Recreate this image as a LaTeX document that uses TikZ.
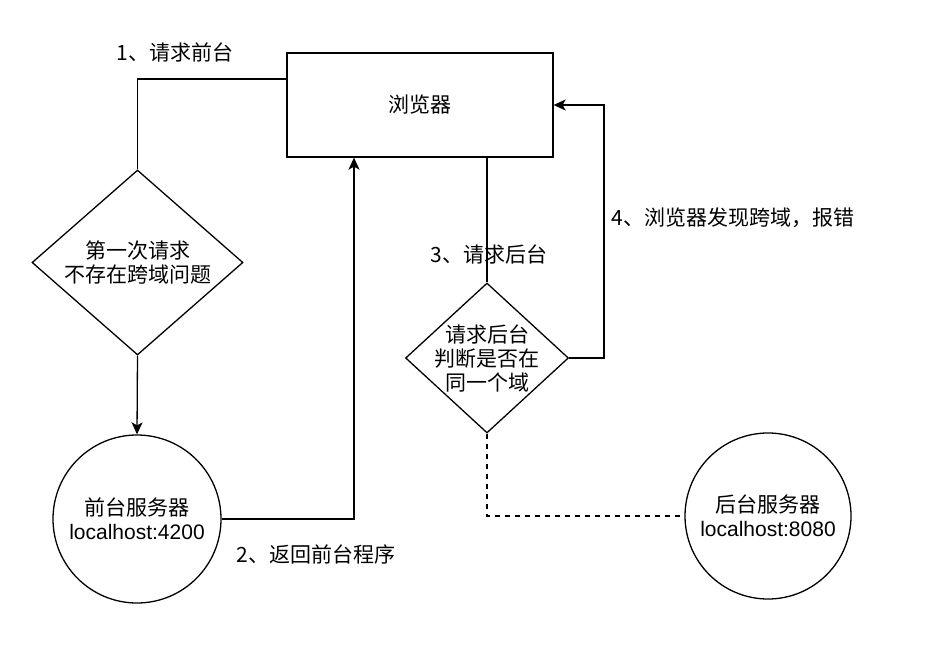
\documentclass[tikz,border=0pt]{standalone}
\usepackage{fontspec}
\setmainfont{Noto Sans CJK SC}
\newfontfamily\latinfont{Liberation Sans}
\usepackage{tikz}
\usetikzlibrary{shapes.geometric, arrows.meta}

\begin{document}
\begin{tikzpicture}[
    x=1pt, y=-1pt,
    txt/.style={font=\fontsize{21}{24}\selectfont, align=center},
    box/.style={rectangle, draw, line width=1.3pt, minimum width=266pt,
                minimum height=104pt, txt},
    check/.style={diamond, draw, line width=1.3pt, inner sep=0pt},
    server/.style={circle, draw, line width=1.3pt, inner sep=0pt, txt},
    flow/.style={line width=1.3pt},
    arrow/.style={-{Stealth[length=12pt, width=11pt, inset=3pt]}, line width=1.3pt},
    link/.style={line width=1.3pt, dash pattern=on 5pt off 5pt}
]
\useasboundingbox (0,0) rectangle (933,671);

\node[box] (browser) at (420,105) {浏览器};

\node[check, minimum width=211pt, minimum height=185pt] (firstq) at (137.5,262.5) {};
\node[txt] (firsttxt) at (firstq) {第一次请求\\不存在跨域问题};

\node[server, minimum size=168pt] (frontsrv) at (137,519)
    {前台服务器\\{\latinfont localhost:4200}};

\node[check, minimum width=163pt, minimum height=150pt] (sameq) at (487,358) {};
\node[txt] (sametxt) at (sameq) {请求后台\\判断是否在\\同一个域};

\node[server, minimum size=166pt] (backsrv) at (768,516)
    {后台服务器\\{\latinfont localhost:8080}};

\coordinate (errturn) at (604,105);

% connectors
\draw[flow] ([yshift=26pt]browser.west) -| (firstq.north);
\draw[arrow] (firstq.south) -- (frontsrv.north);
\draw[arrow] (frontsrv.east) -| ([xshift=-66pt]browser.south);
\draw[flow] ([xshift=67pt]browser.south) -- (sameq.north);
\draw[arrow] (sameq.east) -| (errturn) -- (browser.east);
\draw[link] (sameq.south) |- (backsrv.west);

% labels
\node[txt] (lreq) at (175,52) {1、请求前台};
\node[txt] (lret) at (316,554) {2、返回前台程序};
\node[txt] (lback) at (489,254) {3、请求后台};
\node[txt] (lerr) at (733,218) {4、浏览器发现跨域，报错};

\end{tikzpicture}
\end{document}
